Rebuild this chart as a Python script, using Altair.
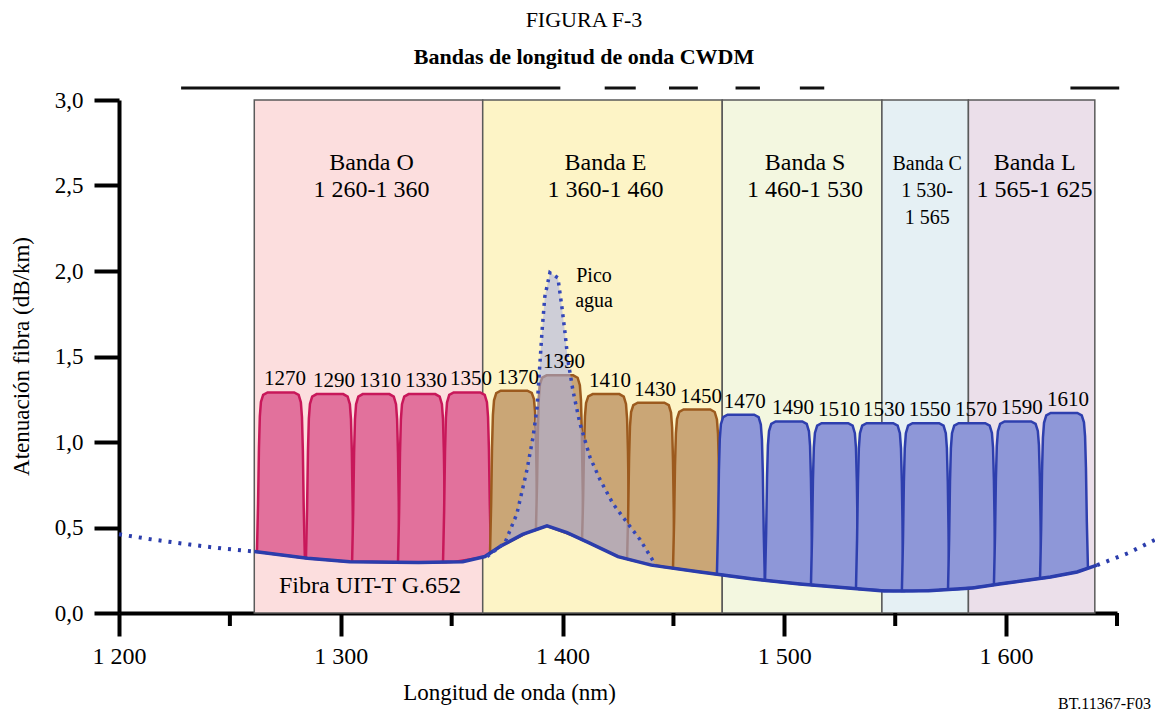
import altair as alt
import numpy as np
import pandas as pd

FONT = "Liberation Serif, Times New Roman, serif"

# ---------------- data ----------------
title_text = "FIGURA F-3"
subtitle_text = "Bandas de longitud de onda CWDM"
x_title = "Longitud de onda (nm)"
y_title = "Atenuación fibra (dB/km)"
fiber_label = "Fibra UIT-T G.652"
peak_label = "Pico\nagua"
ref_code = "BT.11367-F03"

x_tick_values = [1200, 1300, 1400, 1500, 1600]
x_minor_ticks = [1250, 1350, 1450, 1550, 1650]
y_tick_values = [0.0, 0.5, 1.0, 1.5, 2.0, 2.5, 3.0]

# wavelength bands (positions as drawn on the figure)
band_names = ["Banda O", "Banda E", "Banda S", "Banda C", "Banda L"]
band_ranges = ["1 260-1 360", "1 360-1 460", "1 460-1 530", "1 530-\n1 565", "1 565-1 625"]
band_start = [1261, 1364, 1472, 1544, 1583]
band_end = [1364, 1472, 1544, 1583, 1640]
band_colors = ["#fcdede", "#fdf4c6", "#f3f7e0", "#e5f0f4", "#ebdfea"]

# CWDM channels
channel_labels = [1270, 1290, 1310, 1330, 1350, 1370, 1390, 1410, 1430, 1450,
                  1470, 1490, 1510, 1530, 1550, 1570, 1590, 1610]
channel_center = [1273.0, 1295.1, 1315.9, 1336.6, 1356.9, 1378.1, 1398.8, 1419.6, 1439.9,
                  1460.6, 1480.4, 1502.1, 1522.8, 1543.1, 1563.8, 1584.6, 1605.3, 1626.1]
channel_peak = [1.29, 1.28, 1.28, 1.28, 1.29, 1.30, 1.39, 1.28, 1.23, 1.19,
                1.16, 1.12, 1.11, 1.11, 1.11, 1.11, 1.12, 1.17]
channel_group = ["O", "O", "O", "O", "O", "E", "E", "E", "E", "E",
                 "SCL", "SCL", "SCL", "SCL", "SCL", "SCL", "SCL", "SCL"]
group_domain = ["O", "E", "SCL"]
group_fill = ["#e2719c", "#caa676", "#8e97d8"]
group_stroke = ["#c8185a", "#9c5a1e", "#2e3fae"]

# channel filter profile (offset in nm from centre, fraction of height)
profile_dx = [-10.8, -10.3, -9.9, -9.5, -9.0, -8.0, -6.0, 6.0, 8.0, 9.0, 9.5, 9.9, 10.3, 10.8]
profile_frac = [0.0, 0.3, 0.65, 0.85, 0.94, 0.985, 1.0, 1.0, 0.985, 0.94, 0.85, 0.65, 0.3, 0.0]

# fibre attenuation curve (solid part) and dotted extensions
fiber_nm = [1261, 1285, 1304, 1335, 1355, 1365, 1372, 1382, 1393, 1402, 1412, 1425,
            1440, 1462, 1485, 1507, 1530, 1545, 1565, 1585, 1597, 1620, 1632, 1641]
fiber_db = [0.36, 0.32, 0.30, 0.295, 0.30, 0.33, 0.39, 0.46, 0.51, 0.47, 0.41, 0.33,
            0.28, 0.24, 0.20, 0.17, 0.145, 0.128, 0.13, 0.146, 0.17, 0.21, 0.24, 0.28]
left_dot_nm = [1200, 1215, 1232, 1248, 1261]
left_dot_db = [0.46, 0.43, 0.40, 0.375, 0.36]
right_dot_nm = [1641, 1655, 1669]
right_dot_db = [0.28, 0.35, 0.44]

# water peak (dotted)
peak_nm = [1366, 1374, 1379.4, 1384, 1386.7, 1388.5, 1389.4, 1390.7, 1392, 1394.3, 1397.9,
           1399.7, 1401.1, 1402.4, 1404.7, 1407.8, 1412.4, 1416.9, 1422.7, 1429, 1434.9, 1442]
peak_db = [0.33, 0.41, 0.58, 0.84, 1.03, 1.20, 1.38, 1.64, 1.85, 1.99, 1.96,
           1.79, 1.64, 1.48, 1.30, 1.11, 0.91, 0.78, 0.64, 0.53, 0.43, 0.28]

# scan artefact line above the figure
top_seg_start = [1228, 1419, 1448, 1478, 1507, 1629]
top_seg_end = [1399, 1433, 1461, 1489, 1518, 1651]

# ---------------- tables ----------------
all_nm = left_dot_nm + fiber_nm[1:] + right_dot_nm[1:]
all_db = left_dot_db + fiber_db[1:] + right_dot_db[1:]

bands = pd.DataFrame({"name": band_names, "range": band_ranges,
                      "x": band_start, "x2": band_end})

rows = []
for i, c in enumerate(channel_center):
    for dx, f in zip(profile_dx, profile_frac):
        xv = c + dx
        base = float(np.interp(xv, all_nm, all_db))
        rows.append({"ch": channel_labels[i], "group": channel_group[i], "x": xv,
                     "y": base + f * (channel_peak[i] - base), "y2": base})
channels = pd.DataFrame(rows)
chan_lab = pd.DataFrame({"label": [str(v) for v in channel_labels], "x": channel_center,
                         "y": channel_peak})

fiber = pd.DataFrame({"x": fiber_nm, "y": fiber_db})
left_dot = pd.DataFrame({"x": left_dot_nm, "y": left_dot_db})
right_dot = pd.DataFrame({"x": right_dot_nm, "y": right_dot_db})
peak = pd.DataFrame({"x": peak_nm, "y": peak_db,
                     "y2": np.interp(peak_nm, all_nm, all_db)})
minor = pd.DataFrame({"x": x_minor_ticks})
topseg = pd.DataFrame({"x": top_seg_start, "x2": top_seg_end})

# ---------------- scales / axes ----------------
W, H = 998, 513
xscale = alt.Scale(domain=[1200, 1650], nice=False, zero=False)
yscale = alt.Scale(domain=[0, 3], nice=False, zero=False)
xaxis = alt.Axis(values=x_tick_values, format="d",
                 labelExpr="substring(datum.label,0,1)+' '+substring(datum.label,1)",
                 labelFlush=False, labelOverlap=False,
                 titleX=390, titleY=79, titleAlign="center", titleBaseline="middle",
                 titleAngle=0, tickSize=23, labelPadding=8, labelFontSize=24,
                 titleFontSize=23)
yaxis = alt.Axis(values=y_tick_values, format=".1f",
                 labelExpr="replace(datum.label,'.',',')",
                 labelFlush=False, labelOverlap=False,
                 titleX=-98, titleY=256, titleAlign="center", titleBaseline="middle",
                 titleAngle=-90, tickSize=25, labelPadding=11, labelFontSize=23,
                 titleFontSize=23)


def X(f="x"):
    return alt.X(f, type="quantitative", scale=xscale, axis=xaxis, title=x_title)


def Y(f="y"):
    return alt.Y(f, type="quantitative", scale=yscale, axis=yaxis, title=y_title, stack=None)


band_layer = alt.Chart(bands).mark_rect(stroke="#5a5a5a", strokeWidth=1.5).transform_calculate(
    top="3", bottom="0").encode(
    x=X("x"), x2="x2", y=Y("top:Q"), y2="bottom:Q",
    fill=alt.Fill("name:N", scale=alt.Scale(domain=band_names, range=band_colors), legend=None))

top_layer = alt.Chart(topseg).mark_rule(color="#111", strokeWidth=3).encode(
    x=X("x"), x2="x2", y=alt.value(-12))

chan_layer = alt.Chart(channels).mark_area(strokeWidth=2.5, fillOpacity=1).encode(
    x=X("x"), y=Y("y"), y2="y2", detail="ch:N",
    fill=alt.Fill("group:N", scale=alt.Scale(domain=group_domain, range=group_fill), legend=None),
    stroke=alt.Stroke("group:N", scale=alt.Scale(domain=group_domain, range=group_stroke), legend=None))

peak_fill = alt.Chart(peak).mark_area(color="#a7aee6", opacity=0.55).encode(
    x=X("x"), y=Y("y"), y2="y2")

fiber_line = alt.Chart(fiber).mark_line(color="#2b3dac", strokeWidth=3.5).encode(x=X("x"), y=Y("y"))
left_line = alt.Chart(left_dot).mark_line(color="#2b3dac", strokeWidth=4, strokeDash=[3, 7]).encode(
    x=X("x"), y=Y("y"))
right_line = alt.Chart(right_dot).mark_line(color="#2b3dac", strokeWidth=4, strokeDash=[3, 7]).encode(
    x=X("x"), y=Y("y"))
peak_line = alt.Chart(peak).mark_line(color="#3447b8", strokeWidth=3.5, strokeDash=[3, 5]).encode(
    x=X("x"), y=Y("y"))

minor_layer = alt.Chart(minor).mark_rule(color="black", strokeWidth=4).encode(
    x=X("x"), y=alt.value(H), y2=alt.value(H + 13))

txt = dict(font=FONT, color="black")
band_text = alt.Chart(bands).transform_filter("datum.name != 'Banda C'").transform_calculate(
    label="datum.name + '\\n' + datum.range", mid="(datum.x + datum.x2) / 2").mark_text(
    fontSize=24, lineBreak="\n", lineHeight=27, baseline="alphabetic", align="center", dx=3, **txt).encode(
    x=X("mid:Q"), y=alt.value(70), text="label:N")
bandc_text = alt.Chart(bands).transform_filter("datum.name == 'Banda C'").transform_calculate(
    label="datum.name + '\\n' + datum.range", mid="(datum.x + datum.x2) / 2").mark_text(
    fontSize=20, lineBreak="\n", lineHeight=27, baseline="alphabetic", align="center", dx=2, **txt).encode(
    x=X("mid:Q"), y=alt.value(70), text="label:N")

chan_text = alt.Chart(chan_lab).mark_text(fontSize=21, baseline="alphabetic", dx=4, dy=-7, **txt).encode(
    x=X("x"), y=Y("y"), text="label:N")


def label(t, x, y, size, **kw):
    return alt.Chart(pd.DataFrame({"t": [t]})).mark_text(fontSize=size, **txt, **kw).encode(
        x=alt.value(x), y=alt.value(y), text="t:N")


title1 = label(title_text, 465, -73, 22, baseline="alphabetic")
title2 = label(subtitle_text, 465, -36, 22, baseline="alphabetic", fontWeight="bold")
peak_t = label(peak_label, 475, 182, 20, baseline="alphabetic", lineBreak="\n", lineHeight=25)
fiber_t = label(fiber_label, 251, 493, 24, baseline="alphabetic")
ref_t = label(ref_code, 939, 604, 16, baseline="middle", align="left")

chart = alt.layer(
    band_layer, top_layer, chan_layer, peak_fill, fiber_line, left_line, right_line, peak_line,
    minor_layer, band_text, bandc_text, chan_text, title1, title2, peak_t, fiber_t, ref_t
).resolve_scale(fill="independent", stroke="independent").properties(
    width=W, height=H,
    autosize=alt.AutoSizeParams(type="none"),
    padding={"left": 111, "top": 92, "right": 38, "bottom": 100},
    background="white",
).configure_view(stroke=None).configure_axis(
    grid=False, domainColor="black", domainWidth=4, tickColor="black", tickWidth=4,
    labelFont=FONT, titleFont=FONT, labelColor="black", titleColor="black",
    titleFontWeight="normal",
)

chart.save("out.html", embed_options={"renderer": "svg", "actions": False})
